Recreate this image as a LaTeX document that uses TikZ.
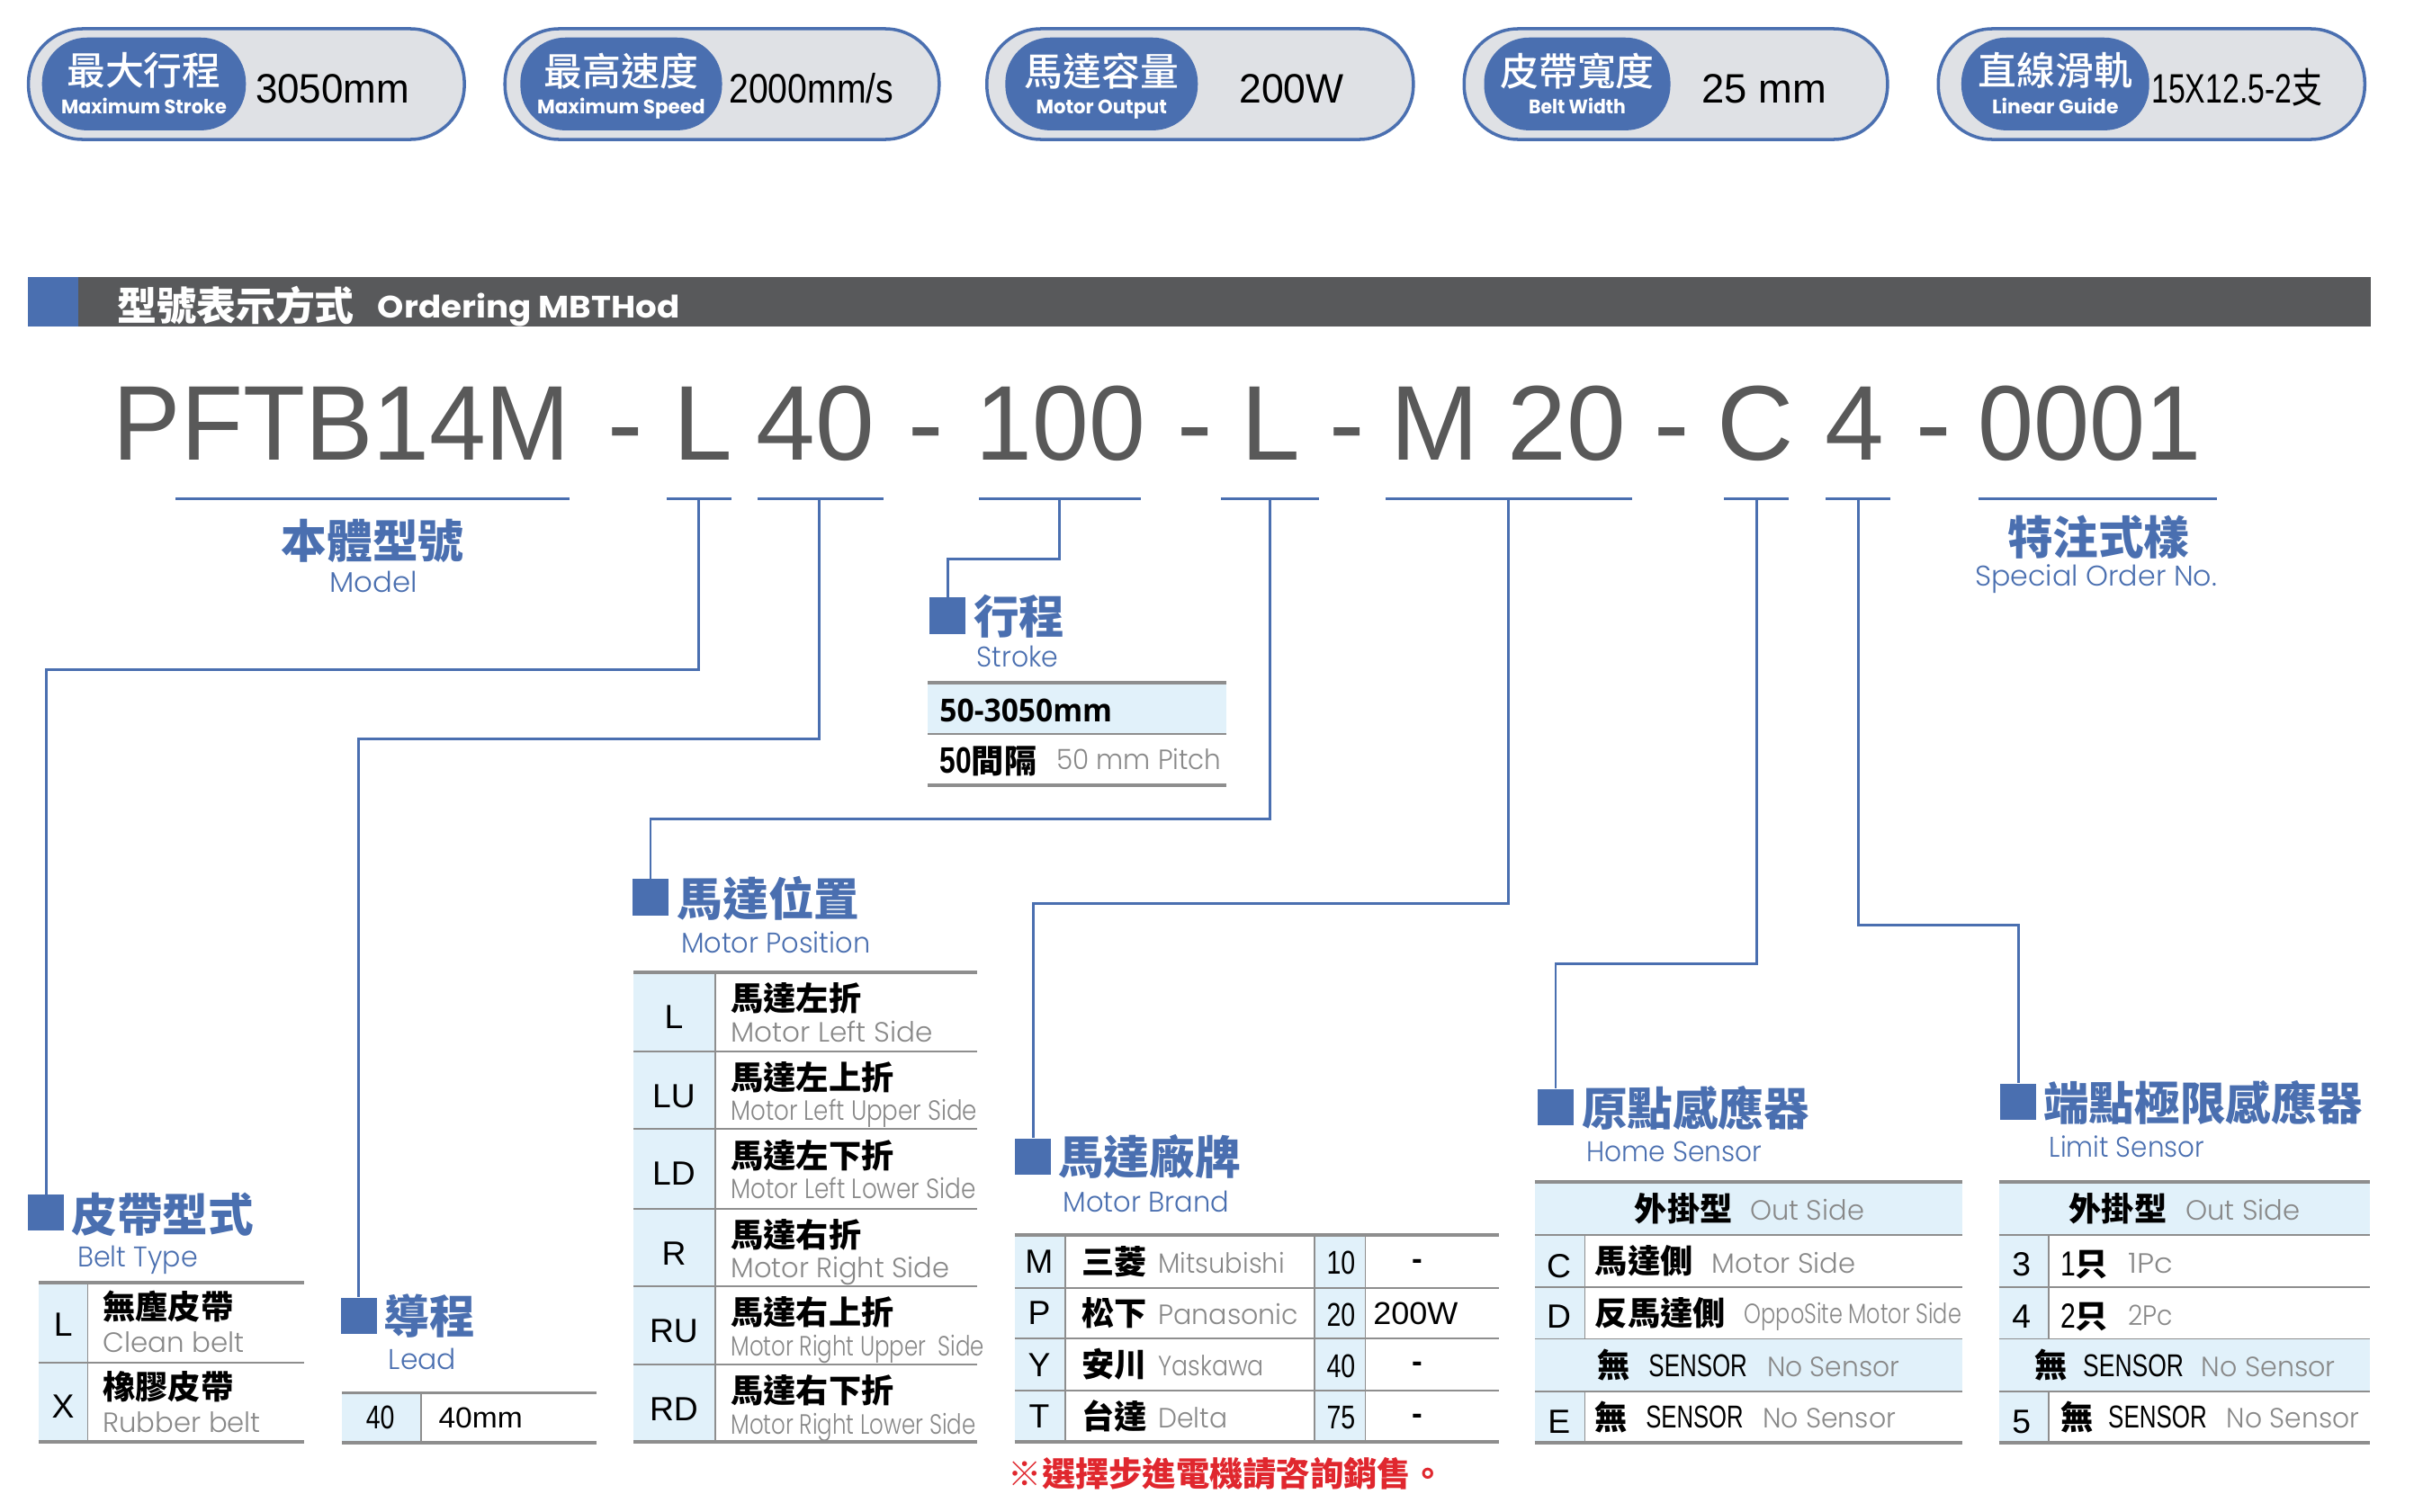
\documentclass[tikz,border=0pt]{standalone}
\usepackage{fontspec}
\usepackage{graphicx}
\setmainfont{Liberation Sans}
\newfontfamily\cjk{Noto Sans CJK TC}
\newfontfamily\cjkm{Noto Sans CJK TC Medium}
\newfontfamily\gothic{Poppins}
\newfontfamily\gothicl{Poppins Light}
\newfontfamily\narrow{Liberation Sans}[FakeStretch=0.78]
\newfontfamily\opens{Open Sans}
\newdimen\pxu \pxu=0.017111cm
\newcommand\fitx[2]{\resizebox{#1\pxu}{\height}{#2}}
\newcommand\fs[1]{\fontsize{#1}{#1}\selectfont}
\definecolor{bl}{HTML}{4A6FB0}
\definecolor{lbl}{HTML}{E1F1FA}
\definecolor{pillg}{HTML}{DFE1E5}
\definecolor{tline}{HTML}{8E8E8E}
\definecolor{gtxt}{HTML}{888888}
\definecolor{codeg}{HTML}{595959}
\definecolor{dg}{HTML}{58595B}
\definecolor{rd}{HTML}{E0272E}
\newcounter{nn}
\newcommand\TN[3][]{\stepcounter{nn}\node[#1] (n\arabic{nn}) at (#2) {#3};}
\newcommand\badge[9]{%
  \draw[pillout] (#1,18.7) rectangle (#2,90.6);
  \fill[bl, rounded corners=0.5cm] (#3,24.4) rectangle (#4,84.7);
  \TN[anchor=center, inner sep=0pt, text=white, font=\cjkm\fs{12.2}]{{(#3+#4)/2},46}{#5}
  \TN[anchor=base, inner sep=0pt, text=white, font=\gothic\bfseries\fs{6.2}]{{(#3+#4)/2},74}{\fitx{#7}{#6}}
  \TN[anchor=base, inner sep=0pt, font=\fs{13}]{#8,67.2}{#9}
}
\begin{document}
\begin{tikzpicture}[x=0.017111cm, y=-0.017111cm,
  pillout/.style={draw=bl, line width=1pt, fill=pillg, rounded corners=0.6cm},
  conn/.style={draw=bl, line width=0.8pt},
  uline/.style={draw=bl, line width=0.9pt},
  thk/.style={draw=tline, line width=1.1pt},
  thn/.style={draw=tline, line width=0.5pt},
  sq/.style={fill=bl, minimum size=0.402cm, inner sep=0pt, draw=none},
  title/.style={anchor=west, inner sep=0pt, text=bl, font=\cjk\bfseries\fs{14.4}},
  sub/.style={anchor=base west, inner sep=0pt, text=bl, font=\gothicl\fs{9}},
  cjkb/.style={anchor=west, inner sep=0pt, font=\cjk\bfseries\fs{10.3}},
  gray/.style={anchor=base west, inner sep=0pt, text=gtxt, font=\gothicl\fs{8.8}},
  code/.style={anchor=base, inner sep=0pt, font=\fs{10.6}},
  nar/.style={anchor=base, inner sep=0pt, font=\narrow\fs{10.4}},
  sens/.style={anchor=base west, inner sep=0pt, font=\fs{10}},
  mc/.style={anchor=base, inner sep=0pt, text=codeg, font=\fs{33.6}}]
\useasboundingbox (0,0) rectangle (1568,982);
\fill[white] (0,0) rectangle (1568,982);

% ---------- badges ----------
\badge{18.5}{301.6}{27.3}{159.7}{最大行程}{Maximum Stroke}{107.5}{216}{\fitx{100}{3050mm}}
\badge{328}{610}{338}{469}{最高速度}{Maximum Speed}{109}{527}{\fitx{107}{2000mm/s}}
\badge{641}{918}{653}{778}{馬達容量}{Motor Output}{85}{839}{\fitx{68}{200W}}
\badge{951}{1226}{964}{1085}{皮帶寬度}{Belt Width}{63}{1146}{\fitx{81}{25 mm}}
\badge{1259}{1536}{1274}{1396}{直線滑軌}{Linear Guide}{82}{1453}{\fitx{111}{15X12.5-2{\cjk 支}}}

% ---------- header bar ----------
\fill[bl] (18,180) rectangle (51,212);
\fill[dg] (51,180) rectangle (1540,212);
\TN[anchor=west, inner sep=0pt, text=white, font=\cjk\bfseries\fs{12.5}]{75.7,198.5}{型號表示方式}
\TN[anchor=base west, inner sep=0pt, text=white, font=\gothic\bfseries\fs{9.8}]{245,206.5}{\fitx{196}{Ordering MBTHod}}

% ---------- model code ----------
\TN[mc]{222,299}{\fitx{297}{PFTB14M}}
\TN[mc]{406,299}{-}
\TN[mc]{456.5,299}{L}
\TN[mc]{529.5,299}{40}
\TN[mc]{601.5,299}{-}
\TN[mc]{689,299}{\fitx{110}{100}}
\TN[mc]{776,299}{-}
\TN[mc]{825.5,299}{L}
\TN[mc]{875,299}{-}
\TN[mc]{932,299}{M}
\TN[mc]{1017.5,299}{20}
\TN[mc]{1086,299}{-}
\TN[mc]{1140,299}{C}
\TN[mc]{1204.5,299}{4}
\TN[mc]{1256,299}{-}
\TN[mc]{1357.5,299}{\fitx{145}{0001}}

\foreach \a/\b in {114/370, 433/475, 492/574, 636/741, 793/857, 900/1060, 1120/1162, 1186/1228, 1285/1440}
  \draw[uline] (\a,324) -- (\b,324);

\TN[title,anchor=center]{242,351.7}{本體型號}
\TN[sub,anchor=base]{242.5,384.6}{\fitx{57}{Model}}
\TN[title,anchor=center]{1363,349}{特注式樣}
\TN[sub,anchor=base]{1361.5,381}{\fitx{157}{Special Order No.}}

% ---------- section squares ----------
\node[sq] (sqBelt) at (30,788) {};
\node[sq] (sqLead) at (233,855) {};
\node[sq] (sqStroke) at (615.5,400) {};
\node[sq] (sqMpos) at (422.5,583) {};
\node[sq] (sqBrand) at (671,751.6) {};
\node[sq] (sqHome) at (1010.5,719.5) {};
\node[sq] (sqLimit) at (1311,716) {};

\coordinate (uBelt) at (454,324);   \coordinate (kBelt) at (30,435);
\coordinate (uLead) at (532,324);   \coordinate (kLead) at (233,480);
\coordinate (uStroke) at (688,324); \coordinate (kStroke) at (615.5,363);
\coordinate (uMpos) at (825,324);   \coordinate (kMpos) at (422.5,532);
\coordinate (uBrand) at (980,324);  \coordinate (kBrand) at (671,587);
\coordinate (uHome) at (1141,324);  \coordinate (kHome) at (1010.5,626);
\coordinate (uLimit) at (1207,324); \coordinate (kLimit) at (1311,601);
\foreach \s in {Belt,Lead,Stroke,Mpos,Brand,Home,Limit}
  \draw[conn] (u\s) |- (k\s) -- (sq\s.north);

% ---------- titles ----------
\TN[title]{46,789}{皮帶型式}
\TN[sub]{50,823}{\fitx{78}{Belt Type}}
\TN[title]{249,855}{導程}
\TN[sub]{252,889.5}{\fitx{44}{Lead}}
\TN[title]{632,400.7}{行程}
\TN[sub]{634,433.6}{\fitx{53}{Stroke}}
\TN[title]{439.6,583.8}{馬達位置}
\TN[sub]{442,619}{\fitx{123}{Motor Position}}
\TN[title]{687,751.8}{馬達廠牌}
\TN[sub]{690,787.4}{\fitx{108}{Motor Brand}}
\TN[title]{1027,719.7}{原點感應器}
\TN[sub]{1030,755}{\fitx{114}{Home Sensor}}
\TN[title]{1327,716.5}{端點極限感應器}
\TN[sub]{1330.7,751.6}{\fitx{100.7}{Limit Sensor}}

% ---------- belt table ----------
\fill[lbl] (25,833.5) rectangle (57,937);
\draw[thn] (57,833.5) -- (57,937);
\draw[thn] (25,885.5) -- (197.6,885.5);
\draw[thk] (25,833.5) -- (197.6,833.5);
\draw[thk] (25,937) -- (197.6,937);
\TN[code]{41,868}{L}
\TN[code]{41,921.6}{X}
\TN[cjkb]{66.5,849}{無塵皮帶}
\TN[gray]{66.5,878.5}{\fitx{92}{Clean belt}}
\TN[cjkb]{66.5,901}{橡膠皮帶}
\TN[gray]{66.5,930.8}{\fitx{102.5}{Rubber belt}}

% ---------- lead table ----------
\fill[lbl] (222,905) rectangle (273.5,937.5);
\draw[thn] (273.5,905) -- (273.5,937.5);
\draw[thk] (222,905) -- (387.5,905);
\draw[thk] (222,937.5) -- (387.5,937.5);
\TN[nar]{247,928.5}{40}
\TN[anchor=base west, inner sep=0pt, font=\fs{9.2}]{284.5,928}{\fitx{54.5}{40mm}}

% ---------- stroke table ----------
\fill[lbl] (602.6,443.8) rectangle (796.6,477);
\draw[thk] (602.6,443.8) -- (796.6,443.8);
\draw[thn] (602.6,477) -- (796.6,477);
\draw[thk] (602.6,510) -- (796.6,510);
\TN[anchor=base west, inner sep=0pt, font=\opens\bfseries\fs{10}]{610,469}{\fitx{112}{50-3050mm}}
\TN[anchor=base west, inner sep=0pt]{610,502.5}{{\narrow\bfseries\fs{11.6}50}{\cjk\bfseries\fs{10.3}間隔}}
\TN[gray]{686,500}{\fitx{107}{50 mm Pitch}}

% ---------- motor position table ----------
\fill[lbl] (411.5,631.8) rectangle (464.6,937);
\draw[thn] (464.6,631.8) -- (464.6,937);
\foreach \y in {683,733.6,785.3,835.8,886.6} \draw[thn] (411.5,\y) -- (634.7,\y);
\draw[thk] (411.5,631.8) -- (634.7,631.8);
\draw[thk] (411.5,937) -- (634.7,937);
\TN[code]{437.7,668.3}{L}
\TN[cjkb]{474.4,648.8}{馬達左折}
\TN[gray]{474.4,676.8}{\fitx{131}{Motor Left Side}}
\TN[code]{437.7,719.5}{LU}
\TN[cjkb]{474.4,700}{馬達左上折}
\TN[gray]{474.4,728}{\fitx{160}{Motor Left Upper Side}}
\TN[code]{437.7,770.1}{LD}
\TN[cjkb]{474.4,750.6}{馬達左下折}
\TN[gray]{474.4,778.6}{\fitx{159}{Motor Left Lower Side}}
\TN[code]{437.7,821.8}{R}
\TN[cjkb]{474.4,802.3}{馬達右折}
\TN[gray]{474.4,830.3}{\fitx{142}{Motor Right Side}}
\TN[code]{437.7,872.3}{RU}
\TN[cjkb]{474.4,852.8}{馬達右上折}
\TN[gray]{474.4,880.8}{\fitx{164.6}{Motor Right Upper\ \ Side}}
\TN[code]{437.7,923.1}{RD}
\TN[cjkb]{474.4,903.6}{馬達右下折}
\TN[gray]{474.4,931.6}{\fitx{159}{Motor Right Lower Side}}

% ---------- motor brand table ----------
\fill[lbl] (659,802.6) rectangle (691.8,937);
\fill[lbl] (853.7,802.6) rectangle (886.8,937);
\foreach \x in {691.8,853.7,886.8} \draw[thn] (\x,802.6) -- (\x,937);
\foreach \y in {836.7,869.8,903.5} \draw[thn] (659,\y) -- (973.7,\y);
\draw[thk] (659,802.6) -- (973.7,802.6);
\draw[thk] (659,937) -- (973.7,937);
\TN[code]{675,827.2}{M}
\TN[cjkb]{702.5,819.65}{三菱}
\TN[gray]{752,827}{\fitx{82}{Mitsubishi}}
\TN[nar]{871,828}{10}
\TN[anchor=center, inner sep=0pt, font=\bfseries\fs{10}]{920.5,821.5}{-}
\TN[code]{675,860.8}{P}
\TN[cjkb]{702.5,853.25}{松下}
\TN[gray]{752,860.6}{\fitx{91}{Panasonic}}
\TN[nar]{871,861.6}{20}
\TN[anchor=base west, inner sep=0pt, font=\fs{10}]{891.6,860.6}{\fitx{55}{200W}}
\TN[code]{675,894.2}{Y}
\TN[cjkb]{702.5,886.65}{安川}
\TN[gray]{752,894}{\fitx{68.6}{Yaskawa}}
\TN[nar]{871,895}{40}
\TN[anchor=center, inner sep=0pt, font=\bfseries\fs{10}]{920.5,888.5}{-}
\TN[code]{675,927.8}{T}
\TN[cjkb]{702.5,920.25}{台達}
\TN[gray]{752,927.6}{\fitx{45}{Delta}}
\TN[nar]{871,928.6}{75}
\TN[anchor=center, inner sep=0pt, font=\bfseries\fs{10}]{920.5,922}{-}
\TN[anchor=west, inner sep=0pt, text=rd, font=\cjk\bfseries\fs{10.6}]{654.6,957.6}{※選擇步進電機請咨詢銷售。}

% ---------- home sensor table ----------
\fill[lbl] (997,768) rectangle (1274.7,802.6);
\fill[lbl] (997,802.6) rectangle (1029.4,869.9);
\fill[lbl] (997,869.9) rectangle (1274.7,904);
\fill[lbl] (997,904) rectangle (1029.4,937.4);
\draw[thn] (1029.4,802.6) -- (1029.4,869.9);
\draw[thn] (1029.4,904) -- (1029.4,937.4);
\foreach \y in {802.6,836.2,869.9,904} \draw[thn] (997,\y) -- (1274.7,\y);
\draw[thk] (997,768) -- (1274.7,768);
\draw[thk] (997,937.4) -- (1274.7,937.4);
\TN[cjkb]{1061.4,785.3}{外掛型}
\TN[gray]{1136.5,793}{\fitx{74}{Out Side}}
\TN[code]{1012.6,830}{C}
\TN[cjkb]{1035.7,819.4}{馬達側}
\TN[gray]{1111.6,827}{\fitx{93.4}{Motor Side}}
\TN[code]{1012.6,863}{D}
\TN[cjkb]{1035.7,853}{反馬達側}
\TN[gray]{1132.6,860}{\fitx{141}{OppoSite Motor Side}}
\TN[cjkb]{1037.5,887}{無}
\TN[sens]{1070.5,894.2}{\fitx{64}{SENSOR}}
\TN[gray]{1147.5,894.2}{\fitx{86}{No Sensor}}
\TN[code]{1012.6,931.2}{E}
\TN[cjkb]{1035.7,920.7}{無}
\TN[sens]{1068.7,927.7}{\fitx{63.3}{SENSOR}}
\TN[gray]{1144.5,927.7}{\fitx{86.5}{No Sensor}}

% ---------- limit sensor table ----------
\fill[lbl] (1298.4,768) rectangle (1539.5,802.6);
\fill[lbl] (1298.4,802.6) rectangle (1330.7,869.9);
\fill[lbl] (1298.4,869.9) rectangle (1539.5,904);
\fill[lbl] (1298.4,904) rectangle (1330.7,937.4);
\draw[thn] (1330.7,802.6) -- (1330.7,869.9);
\draw[thn] (1330.7,904) -- (1330.7,937.4);
\foreach \y in {802.6,836.2,869.9,904} \draw[thn] (1298.4,\y) -- (1539.5,\y);
\draw[thk] (1298.4,768) -- (1539.5,768);
\draw[thk] (1298.4,937.4) -- (1539.5,937.4);
\TN[cjkb]{1343.5,785.3}{外掛型}
\TN[gray]{1419.3,793}{\fitx{74.4}{Out Side}}
\TN[code]{1313,829}{3}
\TN[anchor=base west, inner sep=0pt]{1338,829}{{\narrow\fs{11}1}{\cjk\bfseries\fs{10.3}只}}
\TN[gray]{1382,827}{\fitx{29}{1Pc}}
\TN[code]{1313,863}{4}
\TN[anchor=base west, inner sep=0pt]{1338,863}{{\narrow\fs{11}2}{\cjk\bfseries\fs{10.3}只}}
\TN[gray]{1382,861}{\fitx{29}{2Pc}}
\TN[cjkb]{1321.5,887}{無}
\TN[sens]{1352.6,894.2}{\fitx{65.4}{SENSOR}}
\TN[gray]{1429.6,894.2}{\fitx{87}{No Sensor}}
\TN[code]{1313,931.2}{5}
\TN[cjkb]{1338,920.7}{無}
\TN[sens]{1369,927.7}{\fitx{64}{SENSOR}}
\TN[gray]{1446,927.7}{\fitx{86}{No Sensor}}
\end{tikzpicture}
\end{document}
